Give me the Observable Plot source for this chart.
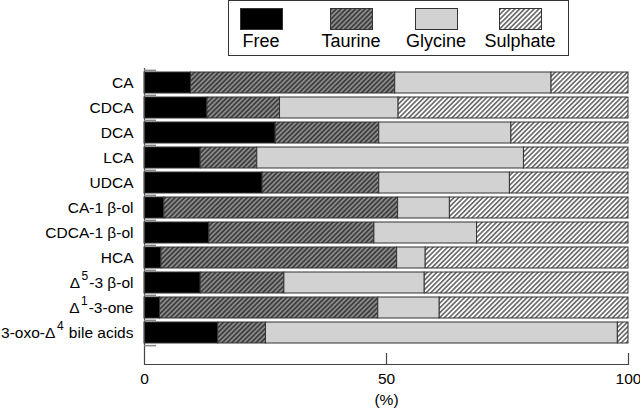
<!DOCTYPE html>
<html><head><meta charset="utf-8">
<script src="https://cdn.jsdelivr.net/npm/d3@7"></script>
<script src="https://cdn.jsdelivr.net/npm/@observablehq/plot@0.6"></script>
<style>
body{margin:0;background:#fff;font-family:"Liberation Sans",Arial,Helvetica,sans-serif;}
#wrap{position:relative;width:640px;height:409px;overflow:hidden;}
#legend{position:absolute;left:228px;top:0;width:341px;height:56px;box-sizing:border-box;border:1px solid #333;background:#fff;}
.item{position:absolute;top:0;width:90px;text-align:center;}
.item svg{position:absolute;left:24px;top:7px;}
.item span{position:absolute;left:-5px;width:100px;top:31px;font-size:18px;line-height:18px;color:#000;}
#defs{position:absolute;width:0;height:0;}
</style></head><body>
<svg id="defs" width="0" height="0">
 <defs>
  <pattern id="hatchDark" patternUnits="userSpaceOnUse" width="3.4" height="3.4" patternTransform="rotate(45)">
   <rect width="3.4" height="3.4" fill="#8a8a8a"/>
   <line x1="1.7" y1="-1" x2="1.7" y2="5" stroke="#1e1e1e" stroke-width="1.2"/>
  </pattern>
  <pattern id="hatchLight" patternUnits="userSpaceOnUse" width="3.4" height="3.4" patternTransform="rotate(45)">
   <rect width="3.4" height="3.4" fill="#ffffff"/>
   <line x1="1.7" y1="-1" x2="1.7" y2="5" stroke="#1e1e1e" stroke-width="1.1"/>
  </pattern>
 </defs>
</svg>
<div id="wrap"><div id="chart"></div><div id="legend"></div></div>
<script>
// ---- data ----
const categories = ["CA", "CDCA", "DCA", "LCA", "UDCA", "CA-1 β-ol", "CDCA-1 β-ol", "HCA", "Δ⁵-3 β-ol", "Δ¹-3-one", "3-oxo-Δ⁴ bile acids"];
const seriesNames = ["Free", "Taurine", "Glycine", "Sulphate"];
const free     = [9.6, 13.0, 27.1, 11.6, 24.4, 4.1, 13.4, 3.5, 11.6, 3.2, 15.2];
const taurine  = [42.2, 15.0, 21.4, 11.7, 24.1, 48.3, 34.1, 48.7, 17.3, 45.1, 9.9];
const glycine  = [32.3, 24.5, 27.3, 55.1, 27.0, 10.7, 21.2, 5.9, 29.0, 12.7, 72.7];
const sulphate = [15.9, 47.5, 24.2, 21.6, 24.5, 36.9, 31.3, 41.9, 42.1, 39.0, 2.2];
const xTicks = [0, 50, 100];

const seriesValues = [free, taurine, glycine, sulphate];
const fills = {Free: "#000000", Taurine: "url(#hatchDark)", Glycine: "#d2d2d2", Sulphate: "url(#hatchLight)"};

const data = categories.flatMap((c, i) => seriesNames.map((s, j) => ({category: c, series: s, value: seriesValues[j][i]})));

const W = 640, H = 409, mTop = 68, mBottom = 45, mLeft = 144, mRight = 12;
const yTop = 68.3, yBottom = 346.6;
const step = (yBottom - yTop) / categories.length;
const frameH = H - mTop - mBottom;
const font = '"Liberation Sans", Arial, Helvetica, sans-serif';

const plot = Plot.plot({
  width: W, height: H,
  marginLeft: mLeft, marginRight: mRight, marginTop: mTop, marginBottom: mBottom,
  style: {fontFamily: font, fontSize: "15.5px", color: "#000", background: "#fff"},
  x: {domain: [0, 100], ticks: xTicks},
  y: {domain: categories, range: [yTop, yBottom], paddingInner: 0.16, paddingOuter: 0.08},
  color: {type: "identity"},
  marks: [
    Plot.barX(data, Plot.stackX({x: "value", y: "category", z: "series", fill: d => fills[d.series], stroke: "#333", strokeWidth: 1})),
    Plot.ruleX([0], {x: d => d, stroke: "#444", strokeWidth: 1.2}),
    Plot.frame({anchor: "bottom", stroke: "#444", strokeWidth: 1.2}),
    Plot.ruleX(xTicks.slice(1), {x: d => d, stroke: "#444", strokeWidth: 1.2, insetTop: frameH - 11}),
    Plot.ruleY(categories, {y: d => d, x1: 0, x2: 2.5, dy: -step / 2, stroke: "#888", strokeWidth: 1.5}),
    Plot.ruleY(categories.slice(-1), {y: d => d, x1: 0, x2: 2.5, dy: step / 2, stroke: "#888", strokeWidth: 1.5}),
    Plot.axisX({ticks: xTicks, tickSize: 0, tickPadding: 8, label: "(%)", labelAnchor: "center", labelArrow: false, labelOffset: 40}),
    Plot.axisY({tickSize: 0, tickPadding: 11, label: null})
  ]
});

// superscripts in tick labels
const supMap = {"⁰":"0","¹":"1","²":"2","³":"3","⁴":"4","⁵":"5","⁶":"6","⁷":"7","⁸":"8","⁹":"9"};
plot.querySelectorAll('g[aria-label="y-axis tick label"] text').forEach(t => {
  const s = t.textContent;
  if (![...s].some(ch => supMap[ch])) return;
  t.textContent = "";
  let runs = [];
  for (const ch of s) {
    const sup = !!supMap[ch];
    const c = sup ? supMap[ch] : ch;
    if (runs.length && runs[runs.length - 1].sup === sup) runs[runs.length - 1].text += c;
    else runs.push({sup, text: c});
  }
  let raised = false;
  for (const r of runs) {
    const ts = document.createElementNS("http://www.w3.org/2000/svg", "tspan");
    ts.textContent = r.text;
    if (r.sup) { ts.setAttribute("font-size", "12px"); ts.setAttribute("dy", "-8"); ts.setAttribute("dx", "1.5"); raised = true; }
    else if (raised) { ts.setAttribute("dy", "8"); ts.setAttribute("dx", "1"); raised = false; }
    t.appendChild(ts);
  }
});

document.getElementById("chart").appendChild(plot);

// legend
const legendLefts = [11, 101, 186, 270];
const legend = document.getElementById("legend");
seriesNames.forEach((s, i) => {
  const item = document.createElement("div");
  item.className = "item";
  item.style.left = (legendLefts[i] - 24) + "px";
  item.innerHTML = `<svg width="43" height="22"><rect x="0.5" y="0.5" width="42" height="21" fill="${fills[s]}" stroke="#333" stroke-width="1"/></svg><span>${s}</span>`;
  legend.appendChild(item);
});
</script>
</body></html>
